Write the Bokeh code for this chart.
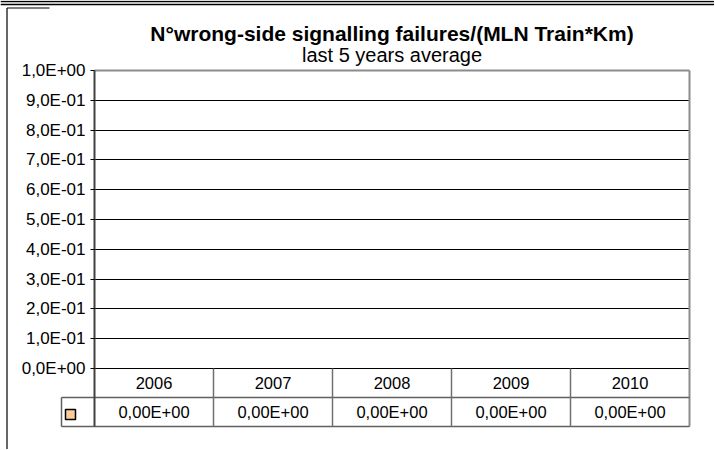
from bokeh.plotting import figure
from bokeh.models import Range1d, FixedTicker, Label
from bokeh.core.properties import value
from bokeh.embed import file_html
from bokeh.resources import INLINE

title_text = "N°wrong-side signalling failures/(MLN Train*Km)"
subtitle_text = "last 5 years average"
years = ["2006", "2007", "2008", "2009", "2010"]
values = [0.0, 0.0, 0.0, 0.0, 0.0]
value_labels = ["0,00E+00", "0,00E+00", "0,00E+00", "0,00E+00", "0,00E+00"]
y_ticks = [0.0, 0.1, 0.2, 0.3, 0.4, 0.5, 0.6, 0.7, 0.8, 0.9, 1.0]
y_tick_labels = ["0,0E+00", "1,0E-01", "2,0E-01", "3,0E-01", "4,0E-01", "5,0E-01",
                 "6,0E-01", "7,0E-01", "8,0E-01", "9,0E-01", "1,0E+00"]

FONT = "Liberation Sans"
n = len(years)
y_max = y_ticks[-1]

# layout (page pixels)
X0, XN = 95.0, 690.0      # plot box left / right
Y1, Y0 = 71.0, 369.0      # plot box top (y=max) / bottom (y=0)
ROW = 29.0                # data-table row height
LEG_L = 62.0              # data-table legend cell left edge
px_x = (XN - X0) / n
px_y = (Y0 - Y1) / y_max

def dx(px):
    return (px - X0) / px_x

def dy(py):
    return (Y0 - py) / px_y

row_h = ROW / px_y
tbl_bot = -2 * row_h
leg_l = dx(LEG_L)

x_lo, x_hi = dx(1), dx(715)
y_lo, y_hi = dy(450), dy(1)

p = figure(width=714, height=449, output_backend="svg", toolbar_location=None,
           x_range=Range1d(x_lo, x_hi), y_range=Range1d(y_lo, y_hi),
           x_axis_location=None, min_border_left=0, min_border_right=0,
           min_border_top=0, min_border_bottom=0)
p.title.visible = False
p.outline_line_color = None
p.background_fill_color = "white"
p.border_fill_color = "white"
p.xgrid.visible = False
p.ygrid.ticker = FixedTicker(ticks=y_ticks[1:-1])
p.ygrid.grid_line_color = "black"
p.ygrid.grid_line_width = 1
p.ygrid.cross_bounds = (0, n)

ax = p.yaxis[0]
ax.ticker = FixedTicker(ticks=y_ticks)
ax.major_label_overrides = {t: l for t, l in zip(y_ticks, y_tick_labels)}
ax.fixed_location = 0
ax.bounds = (tbl_bot, y_max)
ax.axis_line_color = "#404040"
ax.axis_line_width = 2
ax.major_tick_line_color = "black"
ax.major_tick_out = 4
ax.major_tick_in = 0
ax.minor_tick_line_color = None
ax.major_label_standoff = 5
ax.major_label_text_font = FONT
ax.major_label_text_font_size = "17px"
ax.major_label_text_color = "black"

centers = [i + 0.5 for i in range(n)]

# bars (zero height)
p.vbar(x=centers, top=values, bottom=0, width=0.5, fill_color="#FFCC99", line_color="black")

# zero line
p.segment(x0=[0], y0=[0], x1=[n], y1=[0], line_color="black", line_width=1)
# plot area border (top and right), grey
p.segment(x0=[0, n], y0=[y_max, tbl_bot], x1=[n, n], y1=[y_max, y_max],
          line_color="#8c8c8c", line_width=2)
# data table lines
hy = [-row_h, tbl_bot]
p.segment(x0=[leg_l] * 2, y0=hy, x1=[n] * 2, y1=hy, line_color="#606060", line_width=1.5)
vx = list(range(1, n))
p.segment(x0=vx, y0=[tbl_bot] * len(vx), x1=vx, y1=[0] * len(vx), line_color="#707070", line_width=1.5)
p.segment(x0=[leg_l], y0=[tbl_bot], x1=[leg_l], y1=[-row_h], line_color="#606060", line_width=1.5)

# page decoration: double rule at top and the enclosing box edge
p.segment(x0=[x_lo, x_lo], y0=[dy(2), dy(5)], x1=[x_hi, x_hi], y1=[dy(2), dy(5)],
          line_color="black", line_width=1.5)
p.segment(x0=[dx(7.5), dx(7.5)], y0=[dy(8.5), dy(8.5)], x1=[dx(7.5), dx(50)], y1=[y_lo, dy(8.5)],
          line_color="black", line_width=1.2)

# table texts
p.text(x=centers, y=[-row_h / 2] * n, text=years, text_align="center", text_baseline="middle",
       text_font=value(FONT), text_font_size="16.5px", text_color="black")
p.text(x=centers, y=[-1.5 * row_h] * n, text=value_labels, text_align="center", text_baseline="middle",
       text_font=value(FONT), text_font_size="16.5px", text_color="black")
# legend key
p.scatter(x=[dx(71)], y=[dy(415)], marker="square", size=10,
          fill_color="#FFCC99", line_color="black", line_width=1.5)

# titles
p.add_layout(Label(x=n / 2, y=dy(34), text=title_text, text_align="center",
                   text_baseline="alphabetic", text_font=FONT, text_font_size="21px",
                   text_font_style="bold", text_color="black"))
p.add_layout(Label(x=n / 2, y=dy(55), text=subtitle_text, text_align="center",
                   text_baseline="alphabetic", text_font=FONT, text_font_size="20px",
                   text_color="black"))

open("out.html", "w").write(file_html(p, INLINE))
